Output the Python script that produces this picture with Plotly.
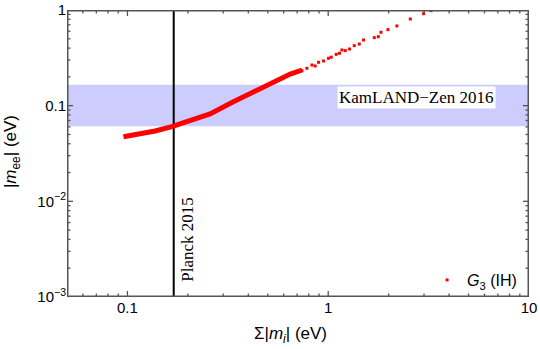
"""
Effective Majorana mass vs. sum of neutrino masses (G3, inverted hierarchy).
"""

import math
import plotly.graph_objects as go

# dense part of the scatter band (sum of masses, |m_ee|), eV
dense_sum = [0.0955, 0.1157, 0.1374, 0.1663, 0.205, 0.258, 0.337, 0.425, 0.514, 0.647, 0.741]
dense_mee = [0.0474, 0.0503, 0.0544, 0.0604, 0.0697, 0.0819, 0.110, 0.140, 0.171, 0.214, 0.236]

# sparse points towards large masses
sparse_sum = [0.740, 0.783, 0.830, 0.861, 0.895, 0.948, 1.003, 1.035, 1.096, 1.138, 1.170, 1.216,
              1.277, 1.348, 1.428, 1.500, 1.696, 1.776, 1.831, 1.983, 2.198, 2.563, 2.986, 3.25]
sparse_mee = [0.232, 0.246, 0.266, 0.260, 0.284, 0.293, 0.313, 0.321, 0.344, 0.353, 0.382, 0.376,
              0.391, 0.424, 0.441, 0.486, 0.514, 0.526, 0.585, 0.623, 0.681, 0.805, 0.915, 0.984]

# experimental bounds
kamland_band = [0.061, 0.165]   # KamLAND-Zen 2016, |m_ee| range
planck_sum = 0.17               # Planck 2015, sum of masses

x_range = [0.05, 10]
y_range = [0.001, 1]
x_ticks = [0.1, 1, 10]
x_labels = ["0.1", "1", "10"]
y_ticks = [0.001, 0.01, 0.1, 1]
y_labels = ["10<sup>\u22123</sup>", "10<sup>\u22122</sup>", "0.1", "1"]

SANS = "Liberation Sans, Arial, sans-serif"
SERIF = "Liberation Serif, Times New Roman, serif"
FRAME = "#555555"

# plot area in pixels (for converting tick lengths to decades)
PX_PER_DEC_X = 462 / math.log10(x_range[1] / x_range[0])
PX_PER_DEC_Y = 287 / math.log10(y_range[1] / y_range[0])


def _minor(lo: int, hi: int) -> list:
    """Minor tick positions 2..9 for each decade 10**lo .. 10**hi."""
    return [k * 10 ** e for e in range(lo, hi) for k in range(2, 10)]


def _tick_segments(vals, length_px, horizontal):
    """Inside tick marks on both sides of the frame, as one path with gaps."""
    xs, ys = [], []
    if horizontal:  # ticks along x axis (bottom and top)
        f = 10 ** (length_px / PX_PER_DEC_Y)
        for v in vals:
            xs += [v, v, None, v, v, None]
            ys += [y_range[0], y_range[0] * f, None, y_range[1], y_range[1] / f, None]
    else:  # ticks along y axis (left and right)
        f = 10 ** (length_px / PX_PER_DEC_X)
        for v in vals:
            xs += [x_range[0], x_range[0] * f, None, x_range[1], x_range[1] / f, None]
            ys += [v, v, None, v, v, None]
    return xs, ys


fig = go.Figure()

# KamLAND-Zen band and Planck line as traces so they sit on the log axes
fig.add_trace(go.Scatter(
    x=[x_range[0], x_range[1], x_range[1], x_range[0], x_range[0]],
    y=[kamland_band[0], kamland_band[0], kamland_band[1], kamland_band[1], kamland_band[0]],
    mode="lines", fill="toself", fillcolor="#ccccff", line=dict(width=0),
    showlegend=False, hoverinfo="skip",
))
fig.add_trace(go.Scatter(
    x=[planck_sum, planck_sum], y=y_range, mode="lines",
    line=dict(color="black", width=2), showlegend=False, hoverinfo="skip",
))

fig.add_trace(go.Scatter(
    x=dense_sum, y=dense_mee, mode="lines",
    line=dict(color="#ff0000", width=5),
    showlegend=False, hoverinfo="skip",
))
fig.add_trace(go.Scatter(
    x=sparse_sum, y=sparse_mee, mode="markers",
    marker=dict(color="#ff0000", size=3, symbol="square"),
    name="<i>G</i><sub>3</sub> (IH)",
))

# frame and tick marks (drawn as traces)
fig.add_trace(go.Scatter(
    x=[x_range[0], x_range[1], x_range[1], x_range[0], x_range[0]],
    y=[y_range[0], y_range[0], y_range[1], y_range[1], y_range[0]],
    mode="lines", line=dict(color=FRAME, width=3), showlegend=False, hoverinfo="skip",
))
x_minor = [v for v in _minor(-2, 1) if v >= x_range[0]]
for vals, ln, horiz in [(x_ticks, 6, True), (x_minor, 3.5, True),
                        (y_ticks, 6, False), (_minor(-3, 0), 3.5, False)]:
    tx, ty = _tick_segments(vals, ln, horiz)
    fig.add_trace(go.Scatter(x=tx, y=ty, mode="lines", line=dict(color=FRAME, width=1.3),
                             showlegend=False, hoverinfo="skip"))


def _note(text, x, y, font, angle=0, **kw):
    fig.add_annotation(text=text, xref="paper", yref="paper", x=x, y=y, xanchor="center",
                       yanchor="middle", textangle=angle, showarrow=False, font=font, **kw)


_note("KamLAND\u2212Zen 2016", 0.757, 0.694, dict(family=SERIF, size=17, color="black"),
      bgcolor="white", borderpad=1)
_note("Planck 2015", 0.259, 0.202, dict(family=SERIF, size=17, color="black"), angle=-90)

# axis titles
_note("\u03a3|<i>m</i><sub><i>i</i></sub>| (eV)", 0.484, -0.132,
      dict(family=SANS, size=17, color="black"))
_note("|<i>m</i><sub>ee</sub>| (eV)", -0.119, 0.505,
      dict(family=SANS, size=17, color="black"), angle=-90)

axis_common = dict(
    type="log", showgrid=False, zeroline=False, showline=False, ticks="",
    tickfont=dict(family=SANS, size=15, color="black"), automargin=False,
)

fig.update_layout(
    width=540, height=349,
    margin=dict(l=67, r=11, t=10, b=52),
    paper_bgcolor="white", plot_bgcolor="white",
    xaxis=dict(range=[math.log10(x_range[0]), math.log10(x_range[1])], tickmode="array",
               tickvals=x_ticks, ticktext=x_labels, **axis_common),
    yaxis=dict(range=[math.log10(y_range[0]), math.log10(y_range[1])], tickmode="array",
               tickvals=y_ticks, ticktext=y_labels, **axis_common),
    legend=dict(x=0.985, xanchor="right", y=0.0, yanchor="bottom", bgcolor="rgba(0,0,0,0)",
                font=dict(family=SANS, size=16, color="black"), itemsizing="trace"),
)

# drop the browser's default page margin so the figure sits at the window corner
fig.write_html("out.html", config={"displayModeBar": False},
               post_script="document.body.style.margin='0';")
